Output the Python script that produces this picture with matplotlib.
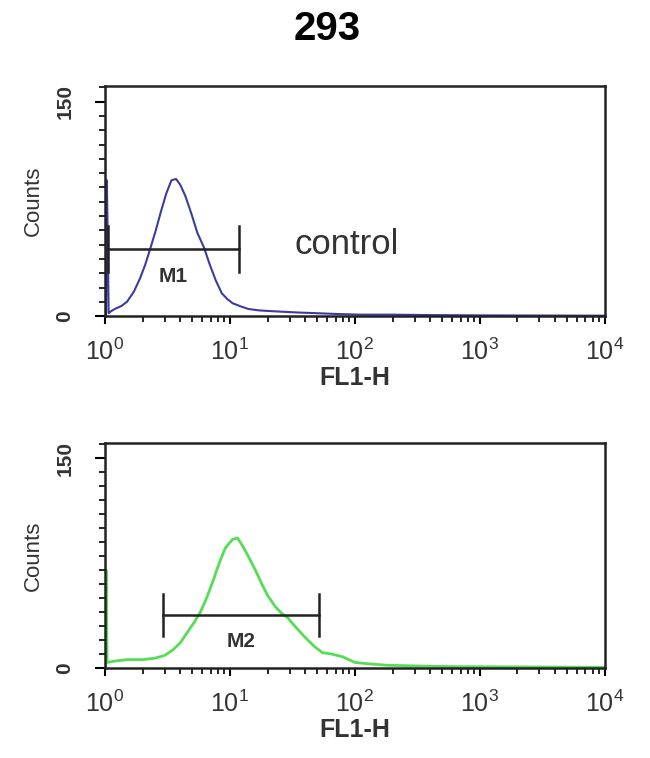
import matplotlib.pyplot as plt
import numpy as np
from matplotlib.ticker import MultipleLocator, LogLocator, NullFormatter

plt.rcParams['font.family'] = ['Liberation Sans', 'DejaVu Sans']
plt.rcParams['mathtext.fontset'] = 'custom'
plt.rcParams['mathtext.rm'] = 'Liberation Sans:bold'
plt.rcParams['mathtext.it'] = 'Liberation Sans:bold'
plt.rcParams['mathtext.bf'] = 'Liberation Sans:bold'

# control histogram (FL1-H, counts)
ctrl_x = [1.02, 1.035, 1.05, 1.07, 1.1, 1.2, 1.35, 1.5, 1.7, 1.9, 2.1, 2.3, 2.55, 2.8, 3.1, 3.4, 3.7,
          4.0, 4.4, 4.9, 5.5, 6.2, 6.9, 7.7, 8.6, 9.5, 10.5, 12, 14, 17, 21, 27, 35, 50,
          70, 110, 200, 400, 1000, 3000, 10000]
ctrl_y = [0, 95, 60, 2, 3, 5, 7, 10, 17, 26, 36, 47, 60, 73, 86, 95, 96,
          92, 84, 72, 58, 48, 36, 25, 16, 12, 9, 7, 5, 4, 3.5, 3, 2.5, 2,
          1.5, 1, 1, 0.7, 0.5, 0.4, 0.3]

# sample histogram
samp_x = [1.01, 1.02, 1.04, 1.2, 1.5, 2.0, 2.5, 3.0, 3.5, 4.0, 4.6, 5.2, 5.8, 6.5, 7.3, 8.2, 9.2,
          10.5, 11.5, 12.5, 14, 16, 18, 20, 23, 26, 29, 33, 38, 42, 48, 55, 65, 80,
          100, 130, 180, 300, 600, 2000, 10000]
samp_y = [0, 70, 4, 5, 6, 6, 7, 9, 13, 18, 26, 33, 40, 50, 62, 75, 86,
          92, 93, 88, 80, 70, 60, 52, 44, 39, 36, 30, 24, 20, 15, 11, 10, 8,
          4, 3, 2, 1.5, 1, 0.8, 0.5]

# gate markers: (start, end, level, label)
m1 = (1.06, 11.8, 47, 'M1')
m2 = (2.9, 52, 38, 'M2')

fig = plt.figure(figsize=(6.5, 7.58), dpi=100)
ax1 = fig.add_axes([0.1615, 0.583, 0.769, 0.3035])
ax2 = fig.add_axes([0.1615, 0.1187, 0.769, 0.297])

def style(ax):
    ax.set_xscale('log')
    ax.set_xlim(1, 10000)
    ax.set_ylim(0, 161)
    ax.set_yticks([0, 150])
    ax.set_yticklabels(['0', '150'], rotation=90, va='center', fontsize=15, fontweight='bold',
                       color='#333333')
    ax.yaxis.set_minor_locator(MultipleLocator(10))
    ax.xaxis.set_major_locator(LogLocator(base=10, numticks=10))
    ax.xaxis.set_minor_locator(LogLocator(base=10, subs=np.arange(2, 10), numticks=10))
    ax.xaxis.set_minor_formatter(NullFormatter())
    ax.tick_params(axis='x', which='major', labelsize=18, length=6, width=1.5, pad=10,
                   labelcolor='#333333')
    ax.tick_params(axis='x', which='minor', length=4, width=1.2)
    ax.tick_params(axis='y', which='major', length=7, width=1.5, pad=15)
    ax.tick_params(axis='y', which='minor', length=4, width=1.2)
    for s in ax.spines.values():
        s.set_linewidth(1.8)
        s.set_color('#222222')
    ax.set_xlabel('FL1-H', fontsize=18, fontweight='bold', labelpad=1, color='#333333')
    ax.set_ylabel('Counts', fontsize=16, labelpad=8, color='#333333')

def gate(ax, g, h, dy):
    x0, x1, y, lab = g
    ax.plot([x0, x1], [y, y], color='#222222', lw=1.8)
    ax.plot([x0, x0], [y - h, y + h], color='#222222', lw=1.8)
    ax.plot([x1, x1], [y - h, y + h], color='#222222', lw=1.8)
    ax.text(np.sqrt(x0 * x1), y - dy, lab, ha='center', va='center', fontsize=15,
            fontweight='bold', color='#333333')

style(ax1)
ax1.plot(ctrl_x, ctrl_y, color='#3c3ca0', lw=1.5)
gate(ax1, m1, 16, 19)
ax1.text(33, 50, 'control', fontsize=25, color='#333333', va='center')

style(ax2)
ax2.plot(samp_x, samp_y, color='#55dd55', lw=2.0)
gate(ax2, m2, 15, 19)

fig.text(0.503, 1 - 29 / 758, '293', fontsize=29, fontweight='bold', ha='center', va='center')

fig.savefig('out.png', dpi=100)
